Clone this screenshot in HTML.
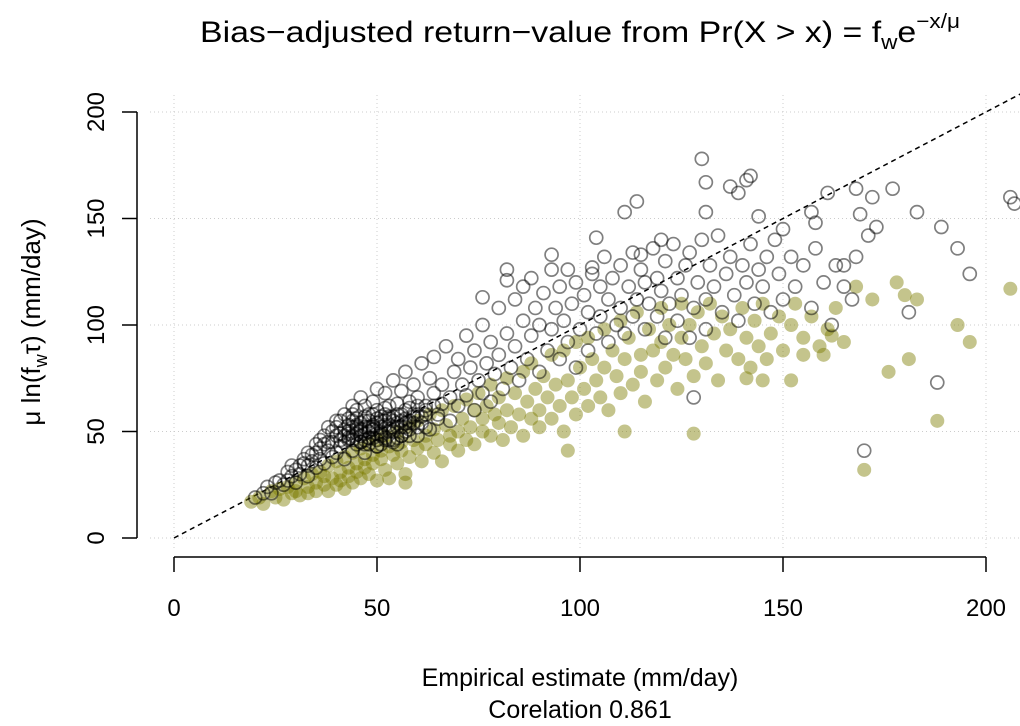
<!DOCTYPE html>
<html><head><meta charset="utf-8"><style>
body{margin:0;background:#fff}
svg text{font-family:"Liberation Sans",sans-serif;fill:#000}
</style></head><body>
<svg id="chart" width="1020" height="721" viewBox="0 0 1020 721" xmlns="http://www.w3.org/2000/svg">
<defs><clipPath id="pc"><rect x="150" y="90" width="870" height="460"/></clipPath></defs>
<text x="200" y="42" font-size="30" textLength="760" lengthAdjust="spacingAndGlyphs">Bias−adjusted return−value from Pr(X &gt; x) = f<tspan font-size="20" dy="7">w</tspan><tspan dy="-7">e</tspan><tspan font-size="20" dy="-14">−x/μ</tspan></text>
<g id="grid"></g>
<g id="axes"></g>
<line id="idline" stroke="#000" stroke-width="1.5" stroke-dasharray="5,4" clip-path="url(#pc)"/>
<g id="filled" clip-path="url(#pc)"></g>
<g id="hollow" clip-path="url(#pc)"></g>
<text x="580" y="686" font-size="25" text-anchor="middle">Empirical estimate (mm/day)</text>
<text x="580" y="718" font-size="25" text-anchor="middle">Corelation 0.861</text>
<text transform="translate(40,322) rotate(-90)" font-size="26" text-anchor="middle">μ  ln(f<tspan font-size="18" dy="7">w</tspan><tspan dy="-7">τ)  (mm/day)</tspan></text>
</svg>
<script>
const xTicks=[0,50,100,150,200];
const yTicks=[0,50,100,150,200];
const hollowX=[130,131,137,139,142,141,114,111,131,161,168,172,177,183,169,171,173,189,193,196,206,207,144,150,157,158,104,93,115,120,168,165,181,188,170,103,82,76,128,
20,23,24,26,27,28,29,30,31,31,32,33,33,34,35,35,36,36,37,37,38,38,39,39,40,40,41,41,42,42,43,43,44,44,45,45,46,46,47,47,48,48,49,49,50,50,51,51,52,52,53,53,54,54,55,55,56,56,57,57,58,59,59,60,60,61,61,62,62,63,64,64,65,66,66,67,68,68,69,70,70,71,72,72,73,74,74,75,76,76,77,78,78,79,80,80,81,82,82,83,84,84,85,86,86,87,88,88,89,90,90,91,92,93,93,94,95,95,96,97,97,98,99,99,100,101,102,102,103,104,105,105,106,107,107,108,109,110,110,111,112,113,113,114,115,116,116,117,118,119,119,120,121,121,122,123,124,124,125,126,127,127,128,129,130,131,131,132,133,134,135,136,137,138,139,140,141,142,143,144,145,146,147,148,149,150,152,153,155,157,158,160,162,163,165,167,
40,40,41,41,42,42,43,43,44,44,44,45,45,45,46,46,46,47,47,47,48,48,48,49,49,49,50,50,50,51,51,51,52,52,52,53,53,54,54,55,55,56,56,57,57,58,58,59,60,60,61,62,63,64,65,38,39,37,36,35,34,33,32,30,29,28,25,22,
43,44,45,46,47,48,49,50,51,52,53,54,55,56,57,58,59,44,46,48,50,52,54,56,58,45,47,49,51,53,55,57,42,43,50,54,60,62,58,47];
const hollowY=[178,167,165,162,170,168,158,153,153,162,164,160,164,153,152,142,146,146,136,124,160,157,151,145,153,148,141,133,133,140,132,128,106,73,41,127,126,113,66,
19,24,21,27,25,31,29,26,34,30,37,29,34,39,33,44,37,42,35,48,41,52,38,45,55,40,49,43,58,37,47,53,62,41,49,56,45,66,52,40,58,47,64,52,43,70,55,49,61,68,46,57,52,74,63,44,58,69,50,78,61,54,72,48,66,82,57,62,52,75,68,85,58,72,63,90,66,55,78,84,62,72,95,67,80,60,88,74,100,68,82,92,64,77,108,86,70,96,121,80,112,90,74,102,118,84,95,122,108,78,100,115,88,126,98,108,84,118,102,92,126,110,80,120,98,114,88,106,124,96,118,104,132,92,112,122,100,128,108,96,118,134,104,112,126,98,120,110,136,104,122,116,94,130,110,138,102,122,114,128,94,134,108,120,140,112,98,128,118,142,106,124,132,114,102,128,120,138,110,126,118,132,106,140,124,112,132,118,128,108,136,120,100,128,118,112,
48,52,46,55,51,45,49,56,46,52,58,44,51,60,48,54,50,46,57,49,52,44,55,47,58,51,54,46,60,50,44,57,53,47,58,50,62,46,55,52,58,48,55,52,60,48,55,58,52,62,54,58,51,62,56,45,50,44,46,40,36,40,35,32,34,27,26,21,
50,48,53,51,55,50,53,56,52,55,53,57,54,52,56,54,57,55,45,47,49,46,50,48,51,52,44,51,48,56,47,54,48,46,43,45,58,60,64,62];
const filledX=[170,188,206,193,196,176,181,172,168,178,180,183,160,152,145,141,162,155,128,111,97,57,
19,21,22,24,25,26,27,28,29,30,30,31,32,33,33,34,35,35,36,37,37,38,38,39,40,40,41,41,42,42,43,43,44,44,45,45,46,46,47,47,48,48,49,49,50,50,51,51,52,52,53,53,54,55,55,56,56,57,58,58,59,60,60,61,62,62,63,64,64,65,66,66,67,68,68,69,70,70,71,72,72,73,74,74,75,76,76,77,78,78,79,80,80,81,82,82,83,84,85,86,86,87,88,88,89,90,90,91,92,93,93,94,95,96,96,97,98,99,99,100,101,102,102,103,104,105,106,106,107,108,109,110,110,111,112,113,114,115,115,116,117,118,119,120,120,121,122,123,124,125,125,126,127,128,129,130,131,132,133,134,135,136,137,139,140,141,142,143,144,145,146,147,149,150,152,153,155,157,159,161,163,165];
const filledY=[32,55,117,100,92,78,84,112,118,120,114,112,86,74,74,75,95,86,49,50,41,26,
17,19,16,22,19,23,18,24,21,26,22,20,28,24,21,30,26,22,31,25,29,22,34,28,25,36,31,27,38,23,33,29,40,26,35,31,42,28,37,33,44,30,39,35,46,27,41,37,32,48,43,28,39,50,35,45,41,30,52,38,46,42,55,36,48,44,58,40,51,46,60,36,53,44,48,62,50,41,56,46,65,52,44,60,68,50,56,62,48,72,58,54,66,46,75,60,52,68,58,78,48,64,56,82,70,60,52,76,66,86,56,72,62,88,50,74,66,92,58,80,70,62,94,84,74,66,98,80,60,88,76,102,68,84,94,72,106,86,78,64,98,88,74,108,92,80,100,86,70,110,94,84,100,76,106,90,82,110,96,74,104,88,98,84,108,94,80,102,90,110,84,96,104,88,100,110,94,104,90,98,108,92];
const X0=174,XS=4.06,Y0=538,YS=2.13;
function sx(v){return X0+v*XS}
function sy(v){return Y0-v*YS}
const NS='http://www.w3.org/2000/svg';
function mk(t,a,p){const e=document.createElementNS(NS,t);for(const k in a)e.setAttribute(k,a[k]);p.appendChild(e);return e}
const grid=document.getElementById('grid'),axes=document.getElementById('axes');
xTicks.forEach(v=>{
  const g=mk('line',{x1:sx(v),x2:sx(v),y1:95,y2:548,stroke:'#ccc','stroke-dasharray':'1,3'},grid);
  
  
  const t=mk('line',{x1:sx(v),x2:sx(v),y1:557,y2:572,stroke:'#000','stroke-width':1.5},axes);
  
  
  const l=mk('text',{x:sx(v),y:616,'font-size':24,'text-anchor':'middle'},axes);
  l.textContent=v;
  
  
});
yTicks.forEach(v=>{
  const g=mk('line',{x1:150,x2:1020,y1:sy(v),y2:sy(v),stroke:'#ccc','stroke-dasharray':'1,3'},grid);
  
  
  const t=mk('line',{x1:122,x2:137,y1:sy(v),y2:sy(v),stroke:'#000','stroke-width':1.5},axes);
  
  
  const l=mk('text',{transform:`translate(104,${sy(v)}) rotate(-90)`,'font-size':24,'text-anchor':'middle'},axes);
  l.textContent=v;
  
  
});
const xa=mk('line',{x1:sx(0),x2:sx(200),y1:557,y2:557,stroke:'#000','stroke-width':1.5},axes);


const ya=mk('line',{x1:137,x2:137,y1:sy(0),y2:sy(200),stroke:'#000','stroke-width':1.5},axes);


const il=document.getElementById('idline');
il.setAttribute('x1',sx(0));il.setAttribute('y1',sy(0));il.setAttribute('x2',sx(220));il.setAttribute('y2',sy(220));
const fg=document.getElementById('filled');
filledX.forEach((x,i)=>{
  const c=mk('circle',{cx:sx(x),cy:sy(filledY[i]),r:7,fill:'rgba(125,125,0,0.45)'},fg);
  
  
});
const hg=document.getElementById('hollow');
hollowX.forEach((x,i)=>{
  const c=mk('circle',{cx:sx(x),cy:sy(hollowY[i]),r:6.5,fill:'none',stroke:'rgba(0,0,0,0.5)','stroke-width':1.7},hg);
  
  
});
</script>
</body></html>
